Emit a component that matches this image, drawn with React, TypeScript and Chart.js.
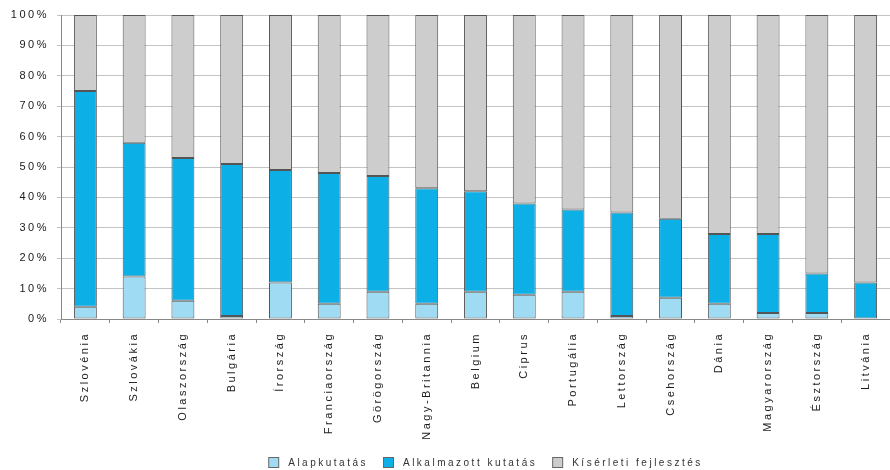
import React, { useEffect, useRef } from "react";
import { Chart, registerables } from "chart.js";

Chart.register(...registerables);

const countries = [
  "Szlovénia", "Szlovákia", "Olaszország", "Bulgária", "Írország", "Franciaország",
  "Görögország", "Nagy-Britannia", "Belgium", "Ciprus", "Portugália", "Lettország",
  "Csehország", "Dánia", "Magyarország", "Észtország", "Litvánia",
];

// Shares of R&D spending by type (percent)
const alapkutatas = [4, 14, 6, 1, 12, 5, 9, 5, 9, 8, 9, 1, 7, 5, 2, 2, 0];
const alkalmazott = [71, 44, 47, 50, 37, 43, 38, 38, 33, 30, 27, 34, 26, 23, 26, 13, 12];
const kiserleti = [25, 42, 47, 49, 51, 52, 53, 57, 58, 62, 64, 65, 67, 72, 72, 85, 88];

const yTicks = [0, 10, 20, 30, 40, 50, 60, 70, 80, 90, 100];

const FONT = "'Liberation Sans', Arial, sans-serif";
const SPACING = "2.5px";

// Widely tracked lettering for every text drawn on the canvas
const letterSpacingPlugin = {
  id: "letterSpacing",
  beforeUpdate(chart: any) {
    chart.ctx.letterSpacing = SPACING;
  },
  beforeDraw(chart: any) {
    chart.ctx.letterSpacing = SPACING;
  },
};

// Bottom legend: outlined swatches with a roomy gap before each label
const bottomLegendPlugin = {
  id: "bottomLegend",
  afterDraw(chart: any) {
    const ctx = chart.ctx;
    const items = chart.data.datasets.map((ds: any) => ({ text: ds.label, color: ds.backgroundColor }));
    const box = 10;
    const gap = 10;
    const itemGap = 15;
    ctx.save();
    ctx.letterSpacing = SPACING;
    ctx.font = `10px ${FONT}`;
    ctx.textBaseline = "middle";
    ctx.textAlign = "left";
    const widths = items.map((it: any) => ctx.measureText(it.text).width);
    const total =
      widths.reduce((a: number, w: number) => a + box + gap + w, 0) + itemGap * (items.length - 1);
    const area = chart.chartArea;
    const cx = (area.left + area.right) / 2 + 10;
    const cy = chart.height - 8;
    let x = cx - total / 2;
    items.forEach((it: any, i: number) => {
      ctx.fillStyle = it.color;
      ctx.fillRect(x + 0.5, cy - box / 2 + 0.5, box, box);
      ctx.strokeStyle = "#666";
      ctx.lineWidth = 1;
      ctx.strokeRect(x + 0.5, cy - box / 2 + 0.5, box, box);
      ctx.fillStyle = "#333";
      ctx.fillText(it.text, x + box + gap, cy + 1);
      x += box + gap + widths[i] + itemGap;
    });
    ctx.restore();
  },
};

export default function App() {
  const ref = useRef<HTMLCanvasElement | null>(null);

  useEffect(() => {
    document.body.style.margin = "0";
    const canvas = ref.current;
    if (!canvas) return;
    const border = "#555555";
    const common = { borderColor: border, borderWidth: 1, borderSkipped: false as const };
    const chart = new Chart(canvas, {
      type: "bar",
      data: {
        labels: countries,
        datasets: [
          { label: "Alapkutatás", data: alapkutatas, backgroundColor: "#9fdcf4", ...common },
          { label: "Alkalmazott kutatás", data: alkalmazott, backgroundColor: "#0cb0e6", ...common },
          { label: "Kísérleti fejlesztés", data: kiserleti, backgroundColor: "#cdcdcd", ...common },
        ],
      },
      plugins: [letterSpacingPlugin, bottomLegendPlugin],
      options: {
        animation: false,
        responsive: false,
        maintainAspectRatio: false,
        layout: { padding: { top: 15, right: -5, left: 0, bottom: 30 } },
        datasets: { bar: { categoryPercentage: 1, barPercentage: 0.47 } },
        plugins: {
          tooltip: { enabled: false },
          legend: { display: false },
        },
        scales: {
          x: {
            stacked: true,
            grid: { drawOnChartArea: false, drawTicks: true, tickLength: 4, color: "#888", offset: true },
            border: { color: "#888" },
            ticks: {
              minRotation: 90,
              maxRotation: 90,
              autoSkip: false,
              font: { family: FONT, size: 11 },
              color: "#1a1a1a",
              padding: 9,
            },
            afterFit: (scale: any) => {
              scale.height = 121;
            },
          },
          y: {
            stacked: true,
            min: 0,
            max: 100,
            afterBuildTicks: (scale: any) => {
              scale.ticks = yTicks.map((v) => ({ value: v }));
            },
            grid: { color: "#c4c4c4", tickLength: 4 },
            border: { color: "#888" },
            ticks: {
              font: { family: FONT, size: 11 },
              color: "#1a1a1a",
              padding: 8,
              callback: (v: any) => `${v}%`,
            },
            afterFit: (scale: any) => {
              scale.width = 61;
            },
          },
        },
      },
    });
    return () => chart.destroy();
  }, []);

  return (
    <div style={{ position: "absolute", left: 0, top: 0, width: 890, height: 470, background: "#fff" }}>
      <canvas ref={ref} width={890} height={470} style={{ display: "block" }} />
    </div>
  );
}
